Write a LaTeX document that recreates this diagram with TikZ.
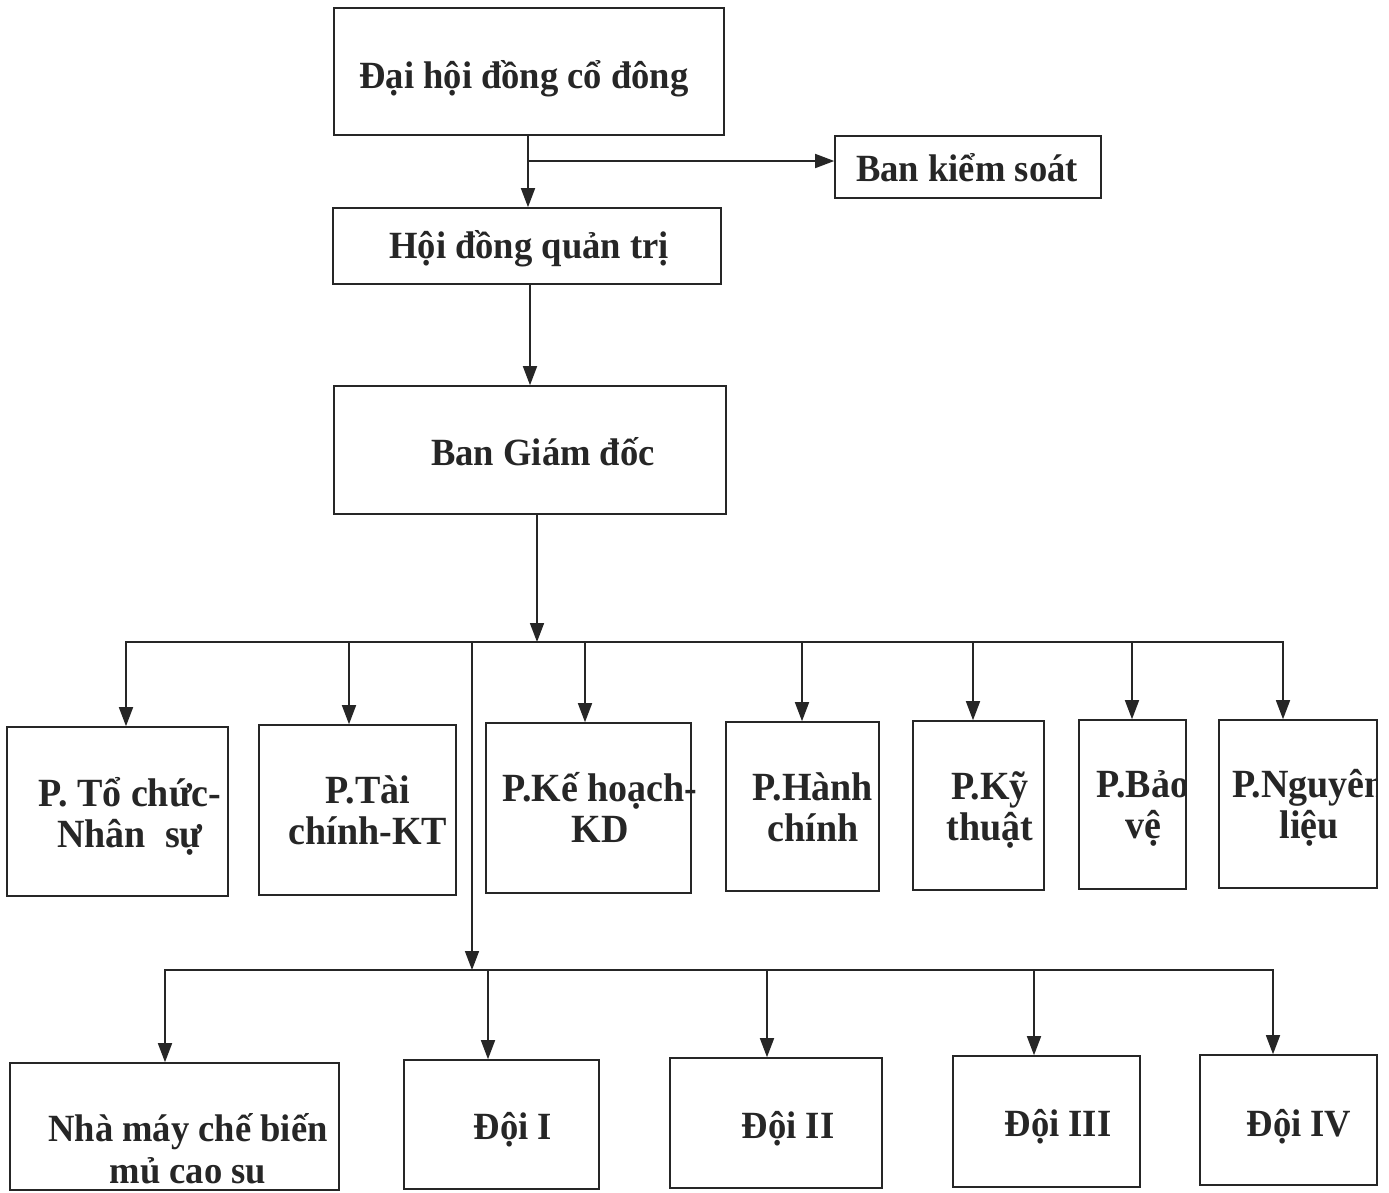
\documentclass[tikz,border=0pt]{standalone}
\usepackage{fontspec}
\setmainfont{Liberation Serif}[FakeStretch=0.95]
\usetikzlibrary{arrows.meta}
\definecolor{ink}{HTML}{262626}
\newcommand{\two}[2]{\begin{tabular}[t]{@{}c@{}}#1\\#2\end{tabular}}
\begin{document}
\begin{tikzpicture}[x=1pt,y=-1pt,
  box/.style={draw=ink, line width=1.6pt, rectangle, inner sep=0pt},
  lbl/.style={text=ink, font=\fontsize{38.5}{42}\selectfont\bfseries, inner sep=0pt, anchor=base},
  lbm/.style={lbl, font=\fontsize{40}{41}\selectfont\bfseries},
  arr/.style={draw=ink, line width=1.6pt, -{Triangle[length=19pt,width=14pt]}},
  ln/.style={draw=ink, line width=1.6pt}]
\useasboundingbox[fill=white] (0,0) rectangle (1389,1192);

% top boxes
\node[box, minimum width=390pt, minimum height=127pt] (dh) at (529,71.5) {};
\node[lbl] (tdh) at (524,88) {Đại hội đồng cổ đông};
\node[box, minimum width=266pt, minimum height=62pt] (ks) at (968,167) {};
\node[lbl] (tks) at (967,181) {Ban kiểm soát};
\node[box, minimum width=388pt, minimum height=76pt] (hd) at (527,246) {};
\node[lbl] (thd) at (529,258) {Hội đồng quản trị};
\node[box, minimum width=392pt, minimum height=128pt] (bgd) at (530,450) {};
\node[lbl] (tbgd) at (543,465) {Ban Giám đốc};

% departments
\node[box, minimum width=221pt, minimum height=169pt] (b1) at (117.5,811.5) {};
\node[lbm] (t1) at (130,806) {\two{P. Tổ chức-}{Nhân~~sự}};
\node[box, minimum width=197pt, minimum height=170pt] (b2) at (357.5,810) {};
\node[lbm] (t2) at (368,803) {\two{P.Tài}{chính-KT}};
\node[box, minimum width=205pt, minimum height=170pt] (b3) at (588.5,808) {};
\node[lbm] (t3) at (600,801) {\two{P.Kế hoạch-}{KD}};
\node[box, minimum width=153pt, minimum height=169pt] (b4) at (802.5,806.5) {};
\node[lbm] (t4) at (813,800) {\two{P.Hành}{chính}};
\node[box, minimum width=131pt, minimum height=169pt] (b5) at (978.5,805.5) {};
\node[lbm] (t5) at (990,799) {\two{P.Kỹ}{thuật}};
\node[box, minimum width=107pt, minimum height=169pt,
  path picture={\node[lbm] (t6) at ([xshift=10.5pt,yshift=7.5pt]path picture bounding box.center) {\two{P.Bảo}{vệ}};}] (b6) at (1132.5,804.5) {};
\node[box, minimum width=158pt, minimum height=168pt,
  path picture={\node[lbm] (t7) at ([xshift=11pt,yshift=7pt]path picture bounding box.center) {\two{P.Nguyên}{liệu}};}] (b7) at (1298,804) {};

% units
\node[box, minimum width=329pt, minimum height=127pt] (c1) at (174.5,1126.5) {};
\node[lbl] (u1) at (188,1141) {\two{Nhà máy chế biến}{mủ cao su}};
\node[box, minimum width=195pt, minimum height=129pt] (c2) at (501.5,1124.5) {};
\node[lbl] (u2) at (513,1139) {Đội I};
\node[box, minimum width=212pt, minimum height=130pt] (c3) at (776,1123) {};
\node[lbl] (u3) at (788,1138) {Đội II};
\node[box, minimum width=187pt, minimum height=131pt] (c4) at (1046.5,1121.5) {};
\node[lbl] (u4) at (1058,1136) {Đội III};
\node[box, minimum width=177pt, minimum height=130pt] (c5) at (1288.5,1120) {};
\node[lbl] (u5) at (1299,1136) {Đội IV};

% connectors top
\coordinate (j1) at (528,161);
\draw[arr] (dh.south -| j1) -- (hd.north -| j1);
\draw[arr] (j1) -- (ks.west |- j1);
\coordinate (j2) at (530,300);
\draw[arr] (hd.south -| j2) -- (bgd.north -| j2);
\coordinate (bus) at (537,642);
\draw[arr] (bgd.south -| bus) -- (bus);

% department bus
\coordinate (bl) at (126,642);
\coordinate (br) at (1283,642);
\draw[arr] (br) -- (bl) -- (b1.north -| bl);
\draw[arr] (bl) -- (br) -- (b7.north -| br);
\coordinate (d2) at (349,642); \draw[arr] (d2) -- (b2.north -| d2);
\coordinate (d3) at (585,642); \draw[arr] (d3) -- (b3.north -| d3);
\coordinate (d4) at (802,642); \draw[arr] (d4) -- (b4.north -| d4);
\coordinate (d5) at (973,642); \draw[arr] (d5) -- (b5.north -| d5);
\coordinate (d6) at (1132,642); \draw[arr] (d6) -- (b6.north -| d6);

% unit bus
\coordinate (v1) at (472,642);
\coordinate (v2) at (472,970);
\draw[arr] (v1) -- (v2);
\coordinate (cl) at (165,970);
\coordinate (cr) at (1273,970);
\draw[arr] (cr) -- (cl) -- (c1.north -| cl);
\draw[arr] (cl) -- (cr) -- (c5.north -| cr);
\coordinate (e2) at (488,970); \draw[arr] (e2) -- (c2.north -| e2);
\coordinate (e3) at (767,970); \draw[arr] (e3) -- (c3.north -| e3);
\coordinate (e4) at (1034,970); \draw[arr] (e4) -- (c4.north -| e4);
\end{tikzpicture}
\end{document}
